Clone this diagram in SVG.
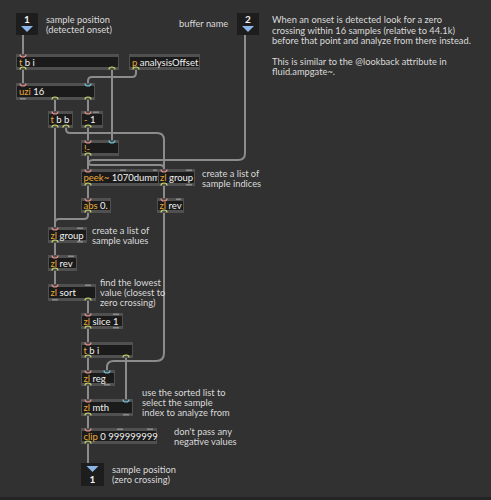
<svg xmlns="http://www.w3.org/2000/svg" width="491" height="500" viewBox="0 0 491 500">
<style>
.frame{fill:#505050}
.body{fill:#1b1b1b}
.obj{font-family:Lato,"Liberation Sans",sans-serif;font-size:9.5px;fill:#f2f2f2}
.cls{fill:#eaa83a}
.cmt{font-family:Lato,"Liberation Sans",sans-serif;font-size:9.3px;fill:#dadada}
.cord{fill:none;stroke:#8c8c8c;stroke-width:2}
.hot{fill:none;stroke:#e59088;stroke-width:1.2}
.cold{fill:none;stroke:#6cc6d9;stroke-width:1.2}
.out{fill:none;stroke:#c9d46a;stroke-width:1.2}
.tab{fill:#8a8a8a}
.io{fill:#1d1d1d}
.tri{fill:#8db6e8}
.num{font-family:Lato,"Liberation Sans",sans-serif;font-size:10px;font-weight:bold;fill:#f2f2f2;text-anchor:middle}
</style>
<defs>
<clipPath id="peekclip"><rect x="82" y="169" width="75.5" height="17"/></clipPath>
</defs>
<rect x="0" y="0" width="491" height="500" fill="#313131"/>
<rect x="0" y="497" width="491" height="3" fill="#242424"/>

<g id="connectors">
<path class="cord" d="M23 35 V54"/>
<path class="cord" d="M23 70 V83"/>
<path class="cord" d="M112 70 V140"/>
<path class="cord" d="M136 70 V73 Q136 77 132 77 H92 Q88 77 88 81 V83"/>
<path class="cord" d="M55 100 V111"/>
<path class="cord" d="M88 100 V111"/>
<path class="cord" d="M88 128 V140"/>
<path class="cord" d="M55 128 V227"/>
<path class="cord" d="M66 128 V129 Q66 133 70 133 H157 Q164 133 164 140 V169"/>
<path class="cord" d="M88 156 V169"/>
<path class="cord" d="M88 156 V161 Q88 165 92 165 H160 Q164 165 164 169"/>
<path class="cord" d="M245 35 V153 Q245 160 238 160 H93 Q88 160 88 165 V169"/>
<path class="cord" d="M88 186 V198"/>
<path class="cord" d="M164 186 V198"/>
<path class="cord" d="M164 213 V353 Q164 361 156 361 H114 Q107 361 107 367 V370"/>
<path class="cord" d="M88 213 V215 Q88 219 84 219 H59 Q55 219 55 223 V227"/>
<path class="cord" d="M55 243 V255"/>
<path class="cord" d="M55 271 V284"/>
<path class="cord" d="M88 301 V313"/>
<path class="cord" d="M88 329 V342"/>
<path class="cord" d="M88 358 V370"/>
<path class="cord" d="M126 358 V399"/>
<path class="cord" d="M88 386 V399"/>
<path class="cord" d="M88 416 V428"/>
<path class="cord" d="M88 444 V463"/>
</g>

<g id="inlet1">
<rect class="io" x="16" y="13" width="22" height="22"/>
<text class="num" x="27" y="23">1</text>
<polygon class="tri" points="21,26 33,26 27,32"/>
</g>
<g id="inlet2">
<rect class="io" x="237" y="13" width="22" height="22"/>
<text class="num" x="248" y="23">2</text>
<polygon class="tri" points="242,26 254,26 248,32"/>
</g>
<g id="outlet1">
<rect class="io" x="81" y="463" width="23" height="23"/>
<polygon class="tri" points="86.5,466 98.5,466 92.5,472"/>
<text class="num" x="92.5" y="482.5">1</text>
</g>

<g id="tbi1">
<rect class="frame" x="16" y="54" width="103" height="16"/>
<rect class="body" x="17" y="57" width="101" height="10"/>
<text class="obj" x="19" y="65.5"><tspan class="cls">t</tspan> b i</text>
<path class="hot" d="M20 54.5 a3 2.5 0 0 0 6 0"/>
<path class="out" d="M20 69.5 a3 2.5 0 0 1 6 0"/>
<path class="out" d="M109 69.5 a3 2.5 0 0 1 6 0"/>
</g>
<g id="analysisOffset">
<rect class="frame" x="129" y="54" width="71" height="16"/>
<rect class="body" x="130" y="57" width="69" height="10"/>
<text class="obj" x="132" y="65.5"><tspan class="cls">p</tspan> analysisOffset</text>
<path class="out" d="M133 69.5 a3 2.5 0 0 1 6 0"/>
</g>
<g id="uzi">
<rect class="frame" x="16" y="83" width="79" height="17"/>
<rect class="body" x="17" y="86" width="77" height="11"/>
<text class="obj" x="19" y="95"><tspan class="cls">uzi</tspan> 16</text>
<path class="hot" d="M20 83.5 a3 2.5 0 0 0 6 0"/>
<path class="cold" d="M85 83.5 a3 2.5 0 0 0 6 0"/>
<rect class="tab" x="20" y="98" width="6" height="1.5"/>
<path class="out" d="M52 99.5 a3 2.5 0 0 1 6 0"/>
<path class="out" d="M85 99.5 a3 2.5 0 0 1 6 0"/>
</g>
<g id="tbb">
<rect class="frame" x="48" y="111" width="25" height="17"/>
<rect class="body" x="49" y="114" width="23" height="11"/>
<text class="obj" x="50.5" y="123"><tspan class="cls">t</tspan> b b</text>
<path class="hot" d="M52 111.5 a3 2.5 0 0 0 6 0"/>
<path class="out" d="M52 127.5 a3 2.5 0 0 1 6 0"/>
<path class="out" d="M63 127.5 a3 2.5 0 0 1 6 0"/>
</g>
<g id="minus1">
<rect class="frame" x="81" y="111" width="22" height="17"/>
<rect class="body" x="82" y="114" width="20" height="11"/>
<text class="obj" x="84" y="123"><tspan class="cls">-</tspan> 1</text>
<path class="hot" d="M85 111.5 a3 2.5 0 0 0 6 0"/>
<rect class="tab" x="93" y="111.5" width="6" height="1.5"/>
<path class="out" d="M85 127.5 a3 2.5 0 0 1 6 0"/>
</g>
<g id="notminus">
<rect class="frame" x="81" y="140" width="38" height="16"/>
<rect class="body" x="82" y="143" width="36" height="10"/>
<text class="obj" x="84" y="151.5"><tspan class="cls">!-</tspan></text>
<path class="hot" d="M85 140.5 a3 2.5 0 0 0 6 0"/>
<path class="cold" d="M109 140.5 a3 2.5 0 0 0 6 0"/>
<path class="out" d="M85 155.5 a3 2.5 0 0 1 6 0"/>
</g>
<g id="peek">
<rect class="frame" x="81" y="169" width="78" height="17"/>
<rect class="body" x="82" y="172" width="76" height="11"/>
<text class="obj" x="83.5" y="181" clip-path="url(#peekclip)"><tspan class="cls">peek~</tspan> 1070dumm</text>
<path class="hot" d="M85 169.5 a3 2.5 0 0 0 6 0"/>
<rect class="tab" x="120" y="169.5" width="6" height="1.5"/>
<rect class="tab" x="153" y="169.5" width="4" height="1.5"/>
<path class="out" d="M85 185.5 a3 2.5 0 0 1 6 0"/>
</g>
<g id="zlgroup1">
<rect class="frame" x="158" y="169" width="37" height="17"/>
<rect class="body" x="159" y="172" width="35" height="11"/>
<text class="obj" x="160" y="181"><tspan class="cls">zl</tspan> group</text>
<path class="hot" d="M161 169.5 a3 2.5 0 0 0 6 0"/>
<rect class="tab" x="186" y="169.5" width="6" height="1.5"/>
<path class="out" d="M161 185.5 a3 2.5 0 0 1 6 0"/>
<rect class="tab" x="186" y="184" width="6" height="1.5"/>
</g>
<g id="abs">
<rect class="frame" x="81" y="198" width="30" height="15"/>
<rect class="body" x="82" y="201" width="28" height="9"/>
<text class="obj" x="83.5" y="209"><tspan class="cls">abs</tspan> 0.</text>
<path class="hot" d="M85 198.5 a3 2.5 0 0 0 6 0"/>
<path class="out" d="M85 212.5 a3 2.5 0 0 1 6 0"/>
</g>
<g id="zlrev1">
<rect class="frame" x="157" y="198" width="27" height="15"/>
<rect class="body" x="158" y="201" width="25" height="9"/>
<text class="obj" x="159.5" y="209"><tspan class="cls">zl</tspan> rev</text>
<path class="hot" d="M161 198.5 a3 2.5 0 0 0 6 0"/>
<rect class="tab" x="176" y="198.5" width="5" height="1.5"/>
<path class="out" d="M161 212.5 a3 2.5 0 0 1 6 0"/>
</g>
<g id="zlgroup2">
<rect class="frame" x="48" y="227" width="39" height="16"/>
<rect class="body" x="49" y="230" width="37" height="10"/>
<text class="obj" x="50.5" y="238.5"><tspan class="cls">zl</tspan> group</text>
<path class="hot" d="M52 227.5 a3 2.5 0 0 0 6 0"/>
<rect class="tab" x="77" y="227.5" width="6" height="1.5"/>
<path class="out" d="M52 242.5 a3 2.5 0 0 1 6 0"/>
<rect class="tab" x="77" y="241" width="6" height="1.5"/>
</g>
<g id="zlrev2">
<rect class="frame" x="48" y="255" width="29" height="16"/>
<rect class="body" x="49" y="258" width="27" height="10"/>
<text class="obj" x="50.5" y="266.5"><tspan class="cls">zl</tspan> rev</text>
<path class="hot" d="M52 255.5 a3 2.5 0 0 0 6 0"/>
<rect class="tab" x="68" y="255.5" width="6" height="1.5"/>
<path class="out" d="M52 270.5 a3 2.5 0 0 1 6 0"/>
</g>
<g id="zlsort">
<rect class="frame" x="48" y="284" width="48" height="17"/>
<rect class="body" x="49" y="287" width="46" height="11"/>
<text class="obj" x="50.5" y="296"><tspan class="cls">zl</tspan> sort</text>
<path class="hot" d="M52 284.5 a3 2.5 0 0 0 6 0"/>
<rect class="tab" x="85" y="284.5" width="6" height="1.5"/>
<rect class="tab" x="52" y="299" width="6" height="1.5"/>
<path class="out" d="M85 300.5 a3 2.5 0 0 1 6 0"/>
</g>
<g id="zlslice">
<rect class="frame" x="81" y="313" width="42" height="16"/>
<rect class="body" x="82" y="316" width="40" height="10"/>
<text class="obj" x="83.5" y="324.5"><tspan class="cls">zl</tspan> slice 1</text>
<path class="hot" d="M85 313.5 a3 2.5 0 0 0 6 0"/>
<rect class="tab" x="113" y="313.5" width="6" height="1.5"/>
<path class="out" d="M85 328.5 a3 2.5 0 0 1 6 0"/>
<rect class="tab" x="113" y="327" width="6" height="1.5"/>
</g>
<g id="tbi2">
<rect class="frame" x="81" y="342" width="52" height="16"/>
<rect class="body" x="82" y="345" width="50" height="10"/>
<text class="obj" x="83.5" y="353.5"><tspan class="cls">t</tspan> b i</text>
<path class="hot" d="M85 342.5 a3 2.5 0 0 0 6 0"/>
<path class="out" d="M85 357.5 a3 2.5 0 0 1 6 0"/>
<path class="out" d="M123 357.5 a3 2.5 0 0 1 6 0"/>
</g>
<g id="zlreg">
<rect class="frame" x="81" y="370" width="34" height="16"/>
<rect class="body" x="82" y="373" width="32" height="10"/>
<text class="obj" x="83.5" y="381.5"><tspan class="cls">zl</tspan> reg</text>
<path class="hot" d="M85 370.5 a3 2.5 0 0 0 6 0"/>
<path class="cold" d="M104 370.5 a3 2.5 0 0 0 6 0"/>
<path class="out" d="M85 385.5 a3 2.5 0 0 1 6 0"/>
<rect class="tab" x="104" y="384" width="6" height="1.5"/>
</g>
<g id="zlmth">
<rect class="frame" x="81" y="399" width="52" height="17"/>
<rect class="body" x="82" y="402" width="50" height="11"/>
<text class="obj" x="83.5" y="411"><tspan class="cls">zl</tspan> mth</text>
<path class="hot" d="M85 399.5 a3 2.5 0 0 0 6 0"/>
<path class="cold" d="M123 399.5 a3 2.5 0 0 0 6 0"/>
<path class="out" d="M85 415.5 a3 2.5 0 0 1 6 0"/>
<rect class="tab" x="123" y="414" width="6" height="1.5"/>
</g>
<g id="clip">
<rect class="frame" x="81" y="428" width="76" height="16"/>
<rect class="body" x="82" y="431" width="74" height="10"/>
<text class="obj" x="83.5" y="439.5"><tspan class="cls">clip</tspan> 0 999999999</text>
<path class="hot" d="M85 428.5 a3 2.5 0 0 0 6 0"/>
<rect class="tab" x="117" y="428.5" width="6" height="1.5"/>
<rect class="tab" x="147" y="428.5" width="6" height="1.5"/>
<path class="out" d="M85 443.5 a3 2.5 0 0 1 6 0"/>
</g>

<g id="comments">
<text class="cmt" x="46" y="22.5">sample position</text>
<text class="cmt" x="46" y="32.5">(detected onset)</text>
<text class="cmt" x="179" y="27">buffer name</text>
<text class="cmt" x="272" y="23">When an onset is detected look for a zero</text>
<text class="cmt" x="272" y="33.5">crossing within 16 samples (relative to 44.1k)</text>
<text class="cmt" x="272" y="44">before that point and analyze from there instead.</text>
<text class="cmt" x="272" y="64.5">This is similar to the @lookback attribute in</text>
<text class="cmt" x="272" y="75">fluid.ampgate~.</text>
<text class="cmt" x="202" y="176.5">create a list of</text>
<text class="cmt" x="202" y="186.5">sample indices</text>
<text class="cmt" x="92" y="233.5">create a list of</text>
<text class="cmt" x="92" y="243.5">sample values</text>
<text class="cmt" x="100" y="286">find the lowest</text>
<text class="cmt" x="100" y="296">value (closest to</text>
<text class="cmt" x="100" y="306">zero crossing)</text>
<text class="cmt" x="142" y="396">use the sorted list to</text>
<text class="cmt" x="142" y="406">select the sample</text>
<text class="cmt" x="142" y="416">index to analyze from</text>
<text class="cmt" x="174" y="435">don't pass any</text>
<text class="cmt" x="174" y="445">negative values</text>
<text class="cmt" x="112" y="473">sample position</text>
<text class="cmt" x="112" y="483">(zero crossing)</text>
</g>
</svg>
